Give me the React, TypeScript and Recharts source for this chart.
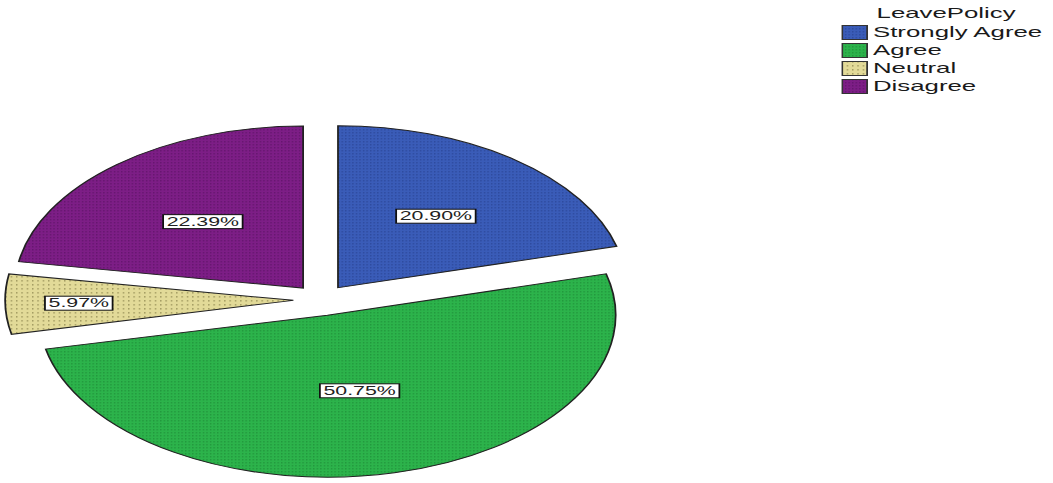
import React from "react";
import { PieChart, Pie, Cell, Sector, Legend } from "recharts";

// answers to LeavePolicy (n = 67)
const categories = ["Strongly Agree", "Agree", "Neutral", "Disagree"];
const counts = [14, 34, 4, 15];
const total = counts.reduce((a, b) => a + b, 0);

const baseColors = ["#3a5cb8", "#2cb34b", "#e2da98", "#7d1e86"];
const dotColors = ["#1f3580", "#17782d", "#7c7440", "#4a0d52"];
const patternIds = ["patBlue", "patGreen", "patTan", "patPurple"];

const data = categories.map((name, i) => ({ name, value: counts[i] }));

// the source picture is stretched sideways, so the chart is drawn narrow and scaled
const STRETCH = 1053 / 592;
const EXPLODE = 15.6;
const RAD = Math.PI / 180;

const explodeOffset = (midAngle: number) => ({
  dx: EXPLODE * Math.cos(-midAngle * RAD),
  dy: EXPLODE * Math.sin(-midAngle * RAD),
});

const ExplodedSector = (props: any) => {
  const { dx, dy } = explodeOffset(props.midAngle);
  return <Sector {...props} cx={props.cx + dx} cy={props.cy + dy} />;
};

const charW = (c: string) => (c === "." ? 0.278 : c === "%" ? 0.889 : 0.556);

const renderLabel = (props: any) => {
  const { cx, cy, midAngle, outerRadius, value, index } = props;
  const { dx, dy } = explodeOffset(midAngle);
  const sweep = (value / total) * 360;
  const frac = Math.max(0.48, 0.82 - 0.0035 * sweep);
  const r = outerRadius * frac;
  const x = cx + dx + r * Math.cos(-midAngle * RAD);
  const y = cy + dy + r * Math.sin(-midAngle * RAD);
  const text = ((value / total) * 100).toFixed(2) + "%";
  const fs = 12;
  const w = text.split("").reduce((s, c) => s + charW(c) * fs, 0) + 4;
  return (
    <g key={`lbl-${index}`}>
      <rect x={x - w / 2} y={y - 7} width={w} height={14} fill="#ffffff" stroke="#111" strokeWidth={1} />
      <text
        x={x}
        y={y}
        textAnchor="middle"
        dominantBaseline="central"
        fontSize={fs}
        fontFamily="'Liberation Sans', Arial, sans-serif"
        fill="#222"
      >
        {text}
      </text>
    </g>
  );
};

const LegendBox = () => (
  <div style={{ position: "relative", width: 120, height: 100, fontFamily: "'Liberation Sans', Arial, sans-serif", fontSize: 14.5, color: "#1a1a1a" }}>
    <div style={{ position: "absolute", left: 20, top: 5, lineHeight: "16px", whiteSpace: "nowrap" }}>LeavePolicy</div>
    {categories.map((name, i) => (
      <div key={name} style={{ position: "absolute", left: 0, top: 25 + i * 18, height: 15, display: "flex", alignItems: "center", whiteSpace: "nowrap" }}>
        <svg width={15} height={15} style={{ display: "block" }}>
          <rect x={0.5} y={0.5} width={14} height={14} fill={`url(#${patternIds[i]})`} stroke="#333" strokeWidth={1} />
        </svg>
        <span style={{ marginLeft: 3, lineHeight: "15px" }}>{name}</span>
      </div>
    ))}
  </div>
);

export default function App() {
  return (
    <div style={{ position: "absolute", left: 0, top: 0, width: 1053, height: 483, background: "#fff", overflow: "hidden" }}>
      <div style={{ width: 592, height: 483, transform: `scaleX(${STRETCH})`, transformOrigin: "0 0" }}>
        <PieChart width={592} height={483} margin={{ top: 0, right: 0, bottom: 0, left: 0 }}>
          <defs>
            {patternIds.map((id, i) => (
              <pattern key={id} id={id} patternUnits="userSpaceOnUse" width={i === 2 ? 3 : 2} height={i === 2 ? 4 : 3}>
                <rect x={0} y={0} width={i === 2 ? 3 : 2} height={i === 2 ? 4 : 3} fill={baseColors[i]} />
                <rect x={0} y={0} width={0.8} height={i === 2 ? 1.6 : 1.5} fill={dotColors[i]} opacity={i === 2 ? 0.6 : 0.45} />
              </pattern>
            ))}
          </defs>
          <Pie
            data={data}
            dataKey="value"
            nameKey="name"
            cx={180.5}
            cy={300}
            outerRadius={162}
            startAngle={90}
            endAngle={-270}
            stroke="#222"
            strokeWidth={1}
            shape={ExplodedSector}
            label={renderLabel}
            labelLine={false}
            isAnimationActive={false}
          >
            {data.map((d, i) => (
              <Cell key={d.name} fill={`url(#${patternIds[i]})`} />
            ))}
          </Pie>
          <Legend
            content={() => <LegendBox />}
            wrapperStyle={{ position: "absolute", left: 472.8, top: 0, width: 120 }}
          />
        </PieChart>
      </div>
    </div>
  );
}
